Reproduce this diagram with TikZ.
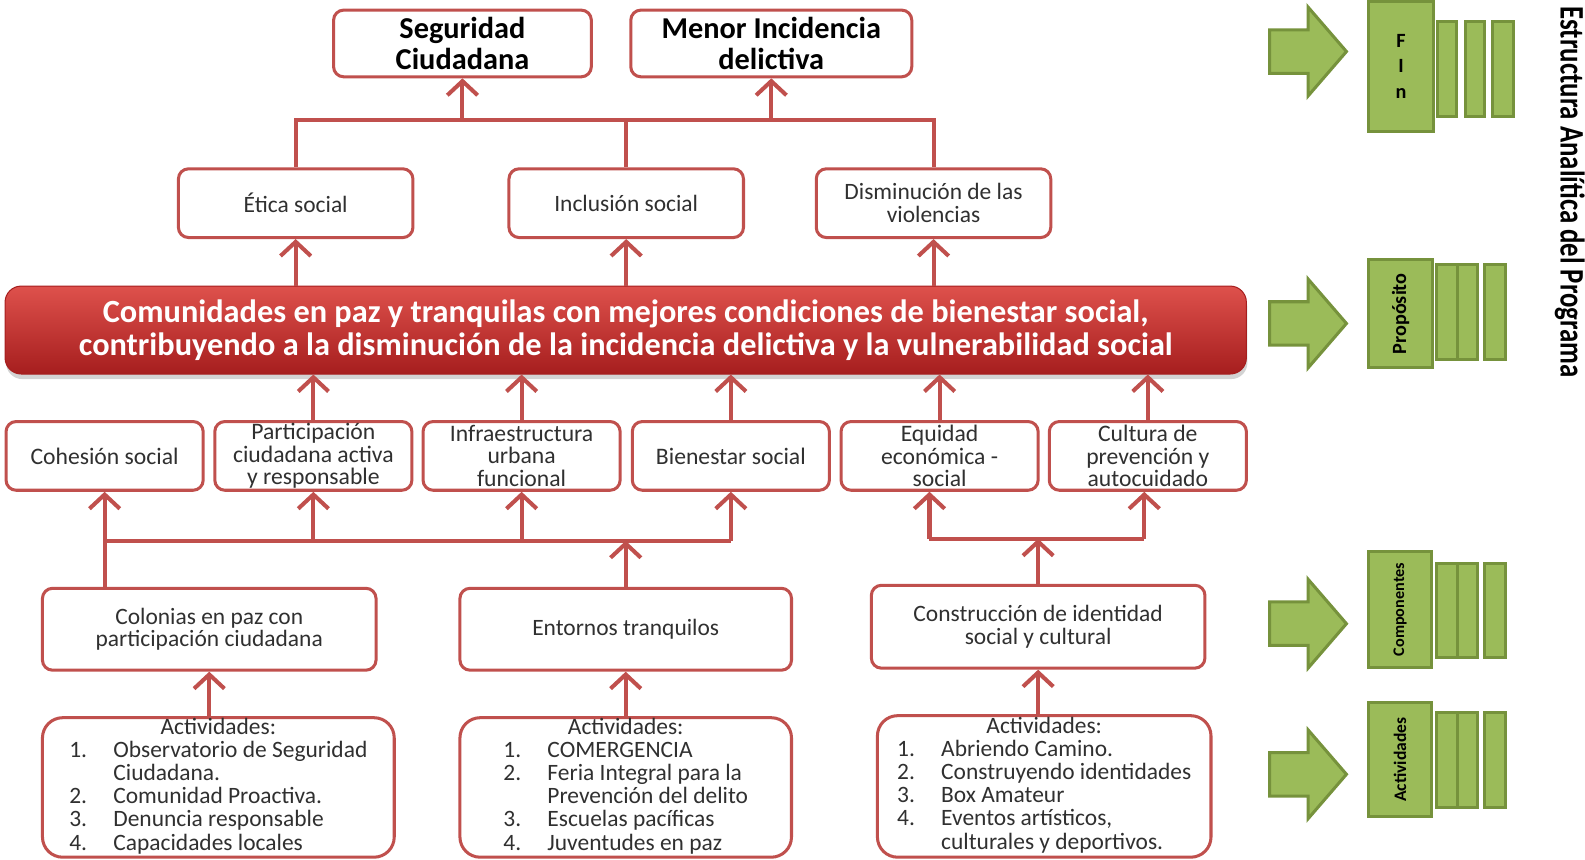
\documentclass[tikz,border=0pt]{standalone}
\usepackage{fontspec}
\setmainfont{Carlito}
\usepackage{graphicx}
\usetikzlibrary{arrows.meta,shadows}

\definecolor{rojo}{HTML}{C0504D}
\definecolor{rojoclaro}{HTML}{DE514C}
\definecolor{rojooscuro}{HTML}{A61E1E}
\definecolor{verde}{HTML}{9BBB59}
\definecolor{verdeborde}{HTML}{76923C}
\definecolor{gristexto}{HTML}{303030}

\begin{document}
\begin{tikzpicture}[x=0.5pt,y=-0.5pt,
  caja/.style={draw=rojo, line width=1.5pt, rounded corners=5pt, fill=white,
    align=center, inner sep=0pt, text=gristexto},
  titulo/.style={caja, text=black, minimum height=33pt,
    font=\bfseries\fontsize{15}{15}\selectfont},
  nivel/.style={caja, minimum width=116pt, minimum height=34pt,
    font=\fontsize{11.6}{11.5}\selectfont},
  factor/.style={caja, minimum width=97.5pt, minimum height=34pt,
    font=\fontsize{11.7}{11}\selectfont},
  compo/.style={caja, minimum width=165pt, minimum height=40.5pt,
    font=\fontsize{11.6}{11}\selectfont},
  activ/.style={caja, rounded corners=10pt, minimum height=69pt,
    font=\fontsize{11.6}{11.4}\selectfont},
  banda/.style={rounded corners=8pt, top color=rojoclaro, bottom color=rojooscuro,
    draw=rojooscuro, line width=0.5pt, text=white, align=center,
    minimum width=614pt, minimum height=43.5pt,
    drop shadow={shadow xshift=0.5pt, shadow yshift=-2.5pt, opacity=0.35},
    font=\bfseries\fontsize{16}{16}\selectfont},
  linea/.style={draw=rojo, line width=2pt},
  flecha/.style={linea, -{Straight Barb[length=7pt,width=15pt]}},
  bloque/.style={fill=verde, draw=verdeborde, line width=1.5pt},
  verdecaja/.style={bloque, inner sep=0pt, text=black}
]
\useasboundingbox (0,0) rectangle (1568,850);

% fines
\node[titulo, minimum width=127.5pt] (segur) at (457.5,43) {Seguridad\\Ciudadana};
\node[titulo, minimum width=139pt] (menor) at (763,43) {Menor Incidencia\\delictiva};

\node[nivel] (etica) at (292.5,201) {Ética social};
\node[nivel] (inclu) at (619.5,201) {Inclusión social};
\node[nivel] (dismi) at (923.5,201) {Disminución de las\\violencias};

% proposito
\node[banda] (banda) at (619,326.5) {Comunidades en paz y tranquilas con mejores condiciones de bienestar social,\\contribuyendo a la disminución de la incidencia delictiva y la vulnerabilidad social};

\node[factor] (cohes) at (103.5,451) {Cohesión social};
\node[factor] (parti) at (310,451) {Participación\\ciudadana activa\\y responsable};
\node[factor] (infra) at (516,451) {Infraestructura\\urbana\\funcional};
\node[factor] (bienes) at (723,451) {Bienestar social};
\node[factor] (equid) at (929.5,451) {Equidad\\económica -\\social};
\node[factor] (cultu) at (1135.5,451) {Cultura de\\prevención y\\autocuidado};

% componentes
\node[compo] (colon) at (207,622.5) {Colonias en paz con\\participación ciudadana};
\node[compo, minimum width=164pt] (entor) at (619,622.5) {Entornos tranquilos};
\node[compo, minimum height=41pt] (const) at (1027,620) {Construcción de identidad\\social y cultural};

% actividades
\node[activ, minimum width=174pt] (act1) at (216,779) {\begin{tabular}{@{}l@{\hspace{13pt}}l@{}}
  \multicolumn{2}{c}{Actividades:}\\
  1. & Observatorio de Seguridad\\
     & Ciudadana.\\
  2. & Comunidad Proactiva.\\
  3. & Denuncia responsable\\
  4. & Capacidades locales
\end{tabular}};
\node[activ, minimum width=164pt] (act2) at (619,779) {\begin{tabular}{@{}l@{\hspace{13pt}}l@{}}
  \multicolumn{2}{c}{Actividades:}\\
  1. & COMERGENCIA\\
  2. & Feria Integral para la\\
     & Prevención del delito\\
  3. & Escuelas pacíficas\\
  4. & Juventudes en paz
\end{tabular}};
\node[activ, minimum width=165pt, minimum height=70pt] (act3) at (1033,778) {\begin{tabular}{@{}l@{\hspace{13pt}}l@{}}
  \multicolumn{2}{c}{Actividades:}\\
  1. & Abriendo Camino.\\
  2. & Construyendo identidades\\
  3. & Box Amateur\\
  4. & Eventos artísticos,\\
     & culturales y deportivos.
\end{tabular}};

% conectores
\coordinate (barrasup) at (0,119);
\coordinate (barrainf) at (0,535);
\coordinate (barrader) at (0,533);
\coordinate (eqpie) at ([xshift=-5pt]equid.south);
\coordinate (cupie) at ([xshift=-1.75pt]cultu.south);

\draw[linea] (etica.north) -- (etica.north |- barrasup) -- (dismi.north |- barrasup) -- (dismi.north);
\draw[linea] (inclu.north) -- (inclu.north |- barrasup);
\draw[flecha] (segur.south |- barrasup) -- (segur.south);
\draw[flecha] (menor.south |- barrasup) -- (menor.south);
\foreach \n in {etica,inclu,dismi}
  \draw[flecha] (banda.north -| \n.south) -- (\n.south);
\foreach \n in {parti,infra,bienes,equid,cultu}
  \draw[flecha] (\n.north) -- (banda.south -| \n.north);

\draw[linea] (cohes.south |- barrainf) -- (bienes.south |- barrainf);
\draw[flecha] (cohes.south |- colon.north) -- (cohes.south);
\foreach \n in {parti,infra,bienes}
  \draw[flecha] (\n.south |- barrainf) -- (\n.south);
\draw[flecha] (entor.north) -- (entor.north |- barrainf);

\draw[linea] (eqpie |- barrader) -- (cupie |- barrader);
\draw[flecha] (eqpie |- barrader) -- (eqpie);
\draw[flecha] (cupie |- barrader) -- (cupie);
\draw[flecha] (const.north) -- (const.north |- barrader);

\draw[flecha] (colon.south |- act1.north) -- (colon.south);
\draw[flecha] (entor.south |- act2.north) -- (entor.south);
\draw[flecha] (const.south |- act3.north) -- (const.south);

% estructura analitica (derecha)
\foreach \yc in {51,320,617,766}
  \draw[bloque] (1256,\yc-21.5) -- (1294,\yc-21.5) -- (1294,\yc-44) -- (1332,\yc)
    -- (1294,\yc+44) -- (1294,\yc+21.5) -- (1256,\yc+21.5) -- cycle;

\foreach \xa/\xb in {1422/1441,1450/1469,1476/1497}
  \draw[bloque] (\xa,21) rectangle (\xb,115);
\foreach \ya/\yb in {262/356,557/650,705/799}
  \foreach \xa/\xb in {1421/1442,1442/1462,1469/1489}
    \draw[bloque] (\xa,\ya) rectangle (\xb,\yb);

\node[verdecaja, minimum width=32pt, minimum height=64.5pt, align=center,
  font=\bfseries\fontsize{10}{12.5}\selectfont] (fin) at (1386,65.5) {F\\I\\n};
\node[verdecaja, rotate=90, minimum width=53.5pt, minimum height=31.5pt,
  font=\bfseries\fontsize{10}{12}\selectfont] (propo) at (1385.5,310.5) {Propósito};
\node[verdecaja, rotate=90, minimum width=57pt, minimum height=31.5pt,
  font=\bfseries\fontsize{8}{10}\selectfont] (compon) at (1385,603) {Componentes};
\node[verdecaja, rotate=90, minimum width=56.5pt, minimum height=31.5pt,
  font=\bfseries\fontsize{8.7}{10}\selectfont] (activi) at (1385,751.5) {Actividades};

\node[rotate=-90, inner sep=0pt, font=\bfseries\fontsize{17}{20}\selectfont] (estru) at (1553,190)
  {\scalebox{0.78}[1]{Estructura Analítica del Programa}};
\end{tikzpicture}
\end{document}
